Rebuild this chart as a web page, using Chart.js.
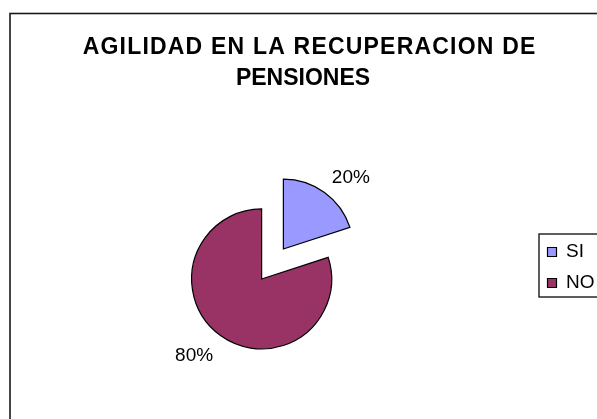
<!DOCTYPE html>
<html>
<head>
<meta charset="utf-8">
<script src="https://cdn.jsdelivr.net/npm/chart.js@4"></script>
<style>
  html, body { margin: 0; padding: 0; background: #fff; }
  #wrap { width: 597px; height: 419px; }
</style>
</head>
<body>
<div id="wrap"><canvas id="myChart" width="597" height="419"></canvas></div>
<script>
const categories = ['SI', 'NO'];
const percentages = [20, 80];
const sliceColors = ['#9999FF', '#993366'];
const titleLines = ['AGILIDAD EN LA RECUPERACION DE', 'PENSIONES'];

const FONT = '"Liberation Sans", Arial, sans-serif';
const EXPLODE = 18.5;

// chart frame + title (title is offset from the pie centre, like the original)
const framePlugin = {
    id: 'frame',
    beforeDraw(chart) {
        const ctx = chart.ctx;
        ctx.save();
        ctx.fillStyle = '#fff';
        ctx.fillRect(0, 0, chart.width, chart.height);
        ctx.strokeStyle = '#1a1a1a';
        ctx.lineWidth = 1.6;
        ctx.strokeRect(10, 13.5, chart.width + 20, chart.height + 20);
        ctx.fillStyle = '#000';
        ctx.textAlign = 'center';
        ctx.textBaseline = 'alphabetic';
        ctx.font = 'bold 23px ' + FONT;
        ctx.letterSpacing = '1.2px';
        ctx.fillText(titleLines[0], 309.6, 53.5);
        ctx.letterSpacing = '0px';
        ctx.fillText(titleLines[1], 303, 85);
        ctx.restore();
    }
};

// push every slice out from the centre along its mid angle
const explodePlugin = {
    id: 'explode',
    afterDatasetsUpdate(chart) {
        chart.getSortedVisibleDatasetMetas().forEach(meta => {
            meta.data.forEach(arc => {
                const mid = (arc.startAngle + arc.endAngle) / 2;
                arc.x += Math.cos(mid) * EXPLODE;
                arc.y += Math.sin(mid) * EXPLODE;
            });
        });
    }
};

// percentage labels outside each slice
const labelPlugin = {
    id: 'pctLabels',
    afterDatasetsDraw(chart) {
        const ctx = chart.ctx;
        const meta = chart.getDatasetMeta(0);
        ctx.save();
        ctx.font = '19px ' + FONT;
        ctx.fillStyle = '#000';
        meta.data.forEach((arc, i) => {
            const mid = (arc.startAngle + arc.endAngle) / 2;
            const dx = Math.cos(mid), dy = Math.sin(mid);
            const r = arc.outerRadius + 12.5;
            const x = arc.x + dx * r;
            const y = arc.y + dy * r;
            ctx.textAlign = dx >= 0 ? 'left' : 'right';
            ctx.textBaseline = 'alphabetic';
            ctx.fillText(percentages[i] + '%', x, dy < 0 ? y + 1 : y + 15);
        });
        ctx.restore();
    }
};

// border round the legend
const legendBoxPlugin = {
    id: 'legendBox',
    afterDraw(chart) {
        const boxes = chart.legend && chart.legend.legendHitBoxes;
        if (!boxes || !boxes.length) return;
        const first = boxes[0], last = boxes[boxes.length - 1];
        const ctx = chart.ctx;
        ctx.save();
        ctx.strokeStyle = '#1a1a1a';
        ctx.lineWidth = 1.4;
        ctx.strokeRect(first.left - 8.5, first.top - 8.5, 100, last.top + last.height - first.top + 13);
        ctx.restore();
    }
};

const ctx = document.getElementById('myChart').getContext('2d');
const myChart = new Chart(ctx, {
    type: 'pie',
    data: {
        labels: categories,
        datasets: [{
            data: percentages,
            backgroundColor: sliceColors,
            borderColor: '#000',
            borderWidth: 1.2,
            borderJoinStyle: 'miter'
        }]
    },
    options: {
        responsive: false,
        animation: false,
        events: [],
        radius: 70,
        layout: {
            padding: { left: 9.5, right: -7.5, top: 109, bottom: 0 }
        },
        plugins: {
            title: { display: false },
            tooltip: { enabled: false },
            legend: {
                position: 'right',
                title: { display: true, text: '', padding: 0, font: { size: 7, lineHeight: 1 } },
                labels: {
                    boxWidth: 9,
                    boxHeight: 9,
                    padding: 12,
                    color: '#000',
                    font: { family: FONT, size: 19 }
                }
            }
        }
    },
    plugins: [framePlugin, explodePlugin, labelPlugin, legendBoxPlugin]
});
</script>
</body>
</html>
